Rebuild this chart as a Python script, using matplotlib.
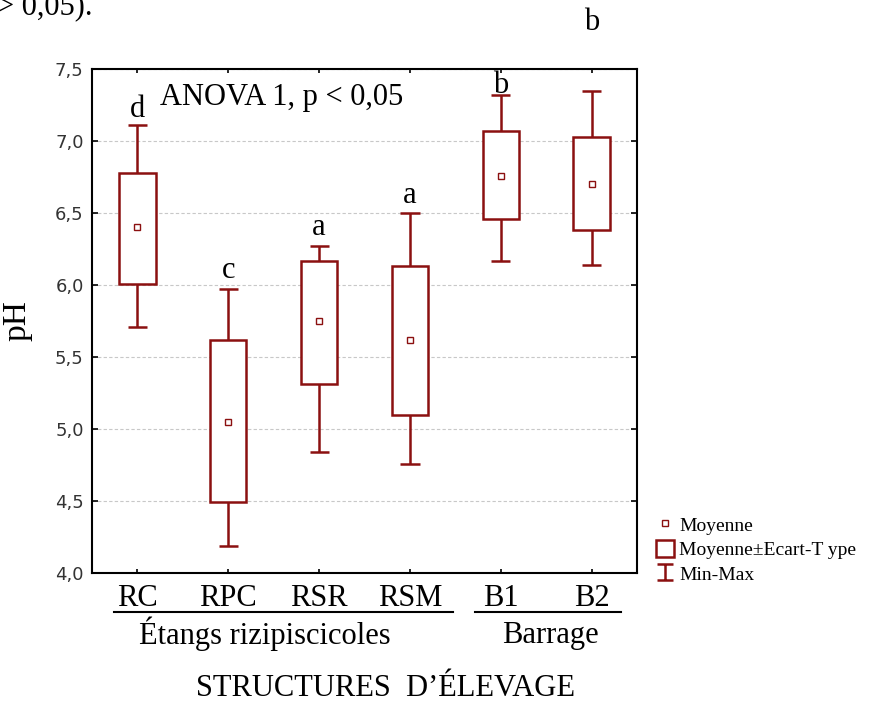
import matplotlib
matplotlib.use("Agg")
import matplotlib.pyplot as plt
import matplotlib.transforms as mtransforms
from matplotlib.lines import Line2D
from matplotlib.patches import Patch
from matplotlib.path import Path

plt.rcParams['font.family'] = ['Liberation Serif', 'DejaVu Serif']

# pH per structure
groups = ['RC', 'RPC', 'RSR', 'RSM', 'B1', 'B2']
ph_mean = [6.40, 5.05, 5.75, 5.62, 6.76, 6.70]
ph_sd_low = [6.01, 4.49, 5.31, 5.10, 6.46, 6.38]
ph_sd_high = [6.78, 5.62, 6.17, 6.13, 7.07, 7.03]
ph_min = [5.71, 4.19, 4.84, 4.76, 6.17, 6.14]
ph_max = [7.11, 5.97, 6.27, 6.50, 7.32, 7.35]

# significance letters and where they sit
letters = ['d', 'c', 'a', 'a', 'b', 'b']
letter_y = [7.17, 6.05, 6.35, 6.57, 7.33, 7.77]

y_ticks = [4.0, 4.5, 5.0, 5.5, 6.0, 6.5, 7.0, 7.5]
y_ticklabels = ['4,0', '4,5', '5,0', '5,5', '6,0', '6,5', '7,0', '7,5']

red = '#8b1010'
x = list(range(len(groups)))

fig = plt.figure(figsize=(8.74, 7.04), dpi=100)
ax = fig.add_axes([0.1053, 0.1861, 0.6236, 0.7159])

# Min-Max whiskers
ax.vlines(x, ph_min, ph_sd_low, color=red, lw=1.8, zorder=2)
ax.vlines(x, ph_sd_high, ph_max, color=red, lw=1.8, zorder=2)
ax.hlines(ph_min, [i - 0.105 for i in x], [i + 0.105 for i in x], color=red, lw=1.8, zorder=2)
ax.hlines(ph_max, [i - 0.105 for i in x], [i + 0.105 for i in x], color=red, lw=1.8, zorder=2)

# mean +- SD boxes
heights = [h - l for h, l in zip(ph_sd_high, ph_sd_low)]
ax.bar(x, heights, bottom=ph_sd_low, width=0.4, facecolor='white',
       edgecolor=red, linewidth=1.8, zorder=3)

# means
ax.plot(x, ph_mean, ls='none', marker='s', ms=5, mfc='white', mec=red, mew=1.0, zorder=4)

# letters
for xi, lab, ly in zip(x, letters, letter_y):
    ax.text(xi, ly, lab, ha='center', va='baseline', fontsize=22, clip_on=False)

ax.text(0.125, 0.928, 'ANOVA 1, p < 0,05', transform=ax.transAxes,
        ha='left', va='baseline', fontsize=22)

ax.set_xlim(-0.5, 5.5)
ax.set_ylim(4.0, 7.5)
ax.set_yticks(y_ticks)
ax.set_yticklabels(y_ticklabels, family='DejaVu Sans', fontsize=13, color='#333333')
ax.set_xticks(x)
ax.set_xticklabels(groups, fontsize=22)
ax.tick_params(axis='y', direction='in', length=4, width=1.2, left=True, right=True, pad=6)
ax.tick_params(axis='x', direction='in', length=3, width=1.2, top=True, bottom=True, pad=8)
ax.grid(axis='y', color='#c8c8c8', linestyle=(0, (3, 2)), lw=0.8, zorder=0)
for s in ax.spines.values():
    s.set_linewidth(1.5)

ax.set_ylabel('pH', fontsize=24, labelpad=16)

# group underlines and names
trans = mtransforms.blended_transform_factory(ax.transData, ax.transAxes)
ax.plot([-0.26, 3.47], [-0.077, -0.077], color='black', lw=1.5, transform=trans, clip_on=False)
ax.plot([3.72, 5.32], [-0.077, -0.077], color='black', lw=1.5, transform=trans, clip_on=False)
ax.text(1.4, -0.14, 'Étangs rizipiscicoles', transform=trans, ha='center', va='baseline', fontsize=22)
ax.text(4.55, -0.138, 'Barrage', transform=trans, ha='center', va='baseline', fontsize=22)

fig.text(385 / 874, 1 - 696 / 704, 'STRUCTURES  D\u2019ÉLEVAGE', ha='center', va='baseline', fontsize=22)
fig.text(-0.004, 1 - 14 / 704, '> 0,05).', ha='left', va='baseline', fontsize=22)

# legend
i_beam = Path([(-1, 1), (1, 1), (0, 1), (0, -1), (-1, -1), (1, -1)],
              [Path.MOVETO, Path.LINETO, Path.MOVETO, Path.LINETO, Path.MOVETO, Path.LINETO])
handles = [
    Line2D([], [], ls='none', marker='s', ms=5, mfc='white', mec=red, mew=1.0),
    Patch(facecolor='white', edgecolor=red, linewidth=1.8),
    Line2D([], [], ls='none', marker=i_beam, ms=11, mfc='none', mec=red, mew=1.8),
]
labels = ['Moyenne', 'Moyenne\u00b1Ecart-T ype', 'Min-Max']
fig.legend(handles, labels, loc='upper left', bbox_to_anchor=(0.737, 1 - 504 / 704),
           frameon=False, fontsize=14, handlelength=0.95, handleheight=0.95,
           handletextpad=0.25, labelspacing=0.28, borderpad=0.1)

fig.savefig('out.png', dpi=100)
